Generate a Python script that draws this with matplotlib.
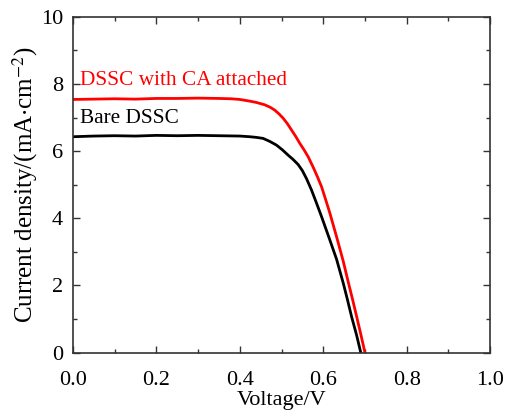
# Filename: plot.py
# J-V curves of the two DSSC cells

import matplotlib.pyplot as plt
from matplotlib.ticker import MultipleLocator

# Data
# DSSC with CA attached (red)
voltage_ca = [0.0, 0.05, 0.10, 0.15, 0.20, 0.25, 0.30, 0.35, 0.38, 0.40, 0.424,
              0.44, 0.46, 0.474, 0.484, 0.494, 0.504, 0.514, 0.524, 0.534, 0.544,
              0.554, 0.564, 0.576, 0.586, 0.596, 0.606, 0.616, 0.632, 0.648,
              0.66, 0.67, 0.68, 0.69, 0.70]
current_ca = [7.54, 7.55, 7.56, 7.55, 7.57, 7.57, 7.58, 7.57, 7.56, 7.54, 7.49,
              7.45, 7.38, 7.30, 7.22, 7.11, 6.98, 6.82, 6.63, 6.44, 6.23,
              6.04, 5.83, 5.52, 5.24, 4.94, 4.55, 4.15, 3.45, 2.72,
              2.10, 1.60, 1.08, 0.55, 0.0]

# Bare DSSC (black)
voltage_bare = [0.0, 0.05, 0.10, 0.15, 0.20, 0.25, 0.30, 0.35, 0.40, 0.424, 0.44,
                0.456, 0.472, 0.488, 0.502, 0.516, 0.528, 0.540, 0.550, 0.560,
                0.572, 0.584, 0.596, 0.606, 0.616, 0.632, 0.648, 0.658, 0.668,
                0.68, 0.69]
current_bare = [6.43, 6.45, 6.46, 6.45, 6.47, 6.46, 6.47, 6.46, 6.45, 6.43, 6.41,
                6.38, 6.29, 6.18, 6.04, 5.88, 5.75, 5.60, 5.42, 5.18,
                4.84, 4.45, 4.05, 3.70, 3.35, 2.78, 2.07, 1.58, 1.07,
                0.52, 0.0]

x_ticks = [0.0, 0.2, 0.4, 0.6, 0.8, 1.0]
y_ticks = [0, 2, 4, 6, 8, 10]

# Times-like font everywhere
plt.rcParams['font.family'] = ['Liberation Serif', 'DejaVu Serif']
plt.rcParams['mathtext.fontset'] = 'stix'

fig = plt.figure(figsize=(5.17, 4.11), dpi=100)
ax = fig.add_axes([0.141, 0.142, 0.807, 0.817])

# Plot the two curves
ax.plot(voltage_bare, current_bare, color='black', lw=2.0)
ax.plot(voltage_ca, current_ca, color='#ff0000', lw=2.0)

# Curve labels
ax.text(0.017, 8.1, 'DSSC with CA attached', color='#ff0000', fontsize=15.3,
        va='center', ha='left')
ax.text(0.017, 6.98, 'Bare DSSC', color='black', fontsize=15.3,
        va='center', ha='left')

# Axes limits and ticks
ax.set_xlim(0, 1.0)
ax.set_ylim(0, 10)
ax.set_xticks(x_ticks)
ax.set_yticks(y_ticks)
ax.set_xticklabels(['%.1f' % t for t in x_ticks])
ax.set_yticklabels([str(t) for t in y_ticks])
ax.xaxis.set_minor_locator(MultipleLocator(0.1))
ax.yaxis.set_minor_locator(MultipleLocator(1))
ax.tick_params(which='both', direction='in', top=True, right=True,
               color='#333333', width=1.0, labelsize=16)
ax.tick_params(which='major', length=5)
ax.tick_params(which='minor', length=3)
ax.tick_params(axis='x', which='major', pad=13)
ax.tick_params(axis='y', which='major', pad=7)
for spine in ax.spines.values():
    spine.set_color('#333333')
    spine.set_linewidth(1.2)

# Axis labels
ax.set_xlabel('Voltage/V', fontsize=16, labelpad=1)
ax.set_ylabel(r'Current density/(mA$\cdot$cm$^{-2}$)', fontsize=18, labelpad=1)

fig.savefig('out.png', dpi=100)
